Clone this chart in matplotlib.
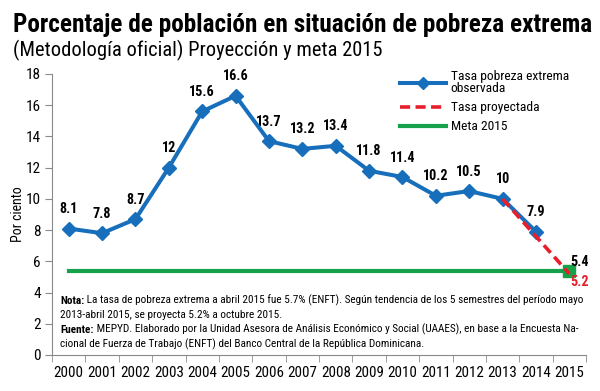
import matplotlib
matplotlib.use("Agg")
import matplotlib.pyplot as plt
from matplotlib.lines import Line2D

# data
years = ["2000", "2001", "2002", "2003", "2004", "2005", "2006", "2007",
         "2008", "2009", "2010", "2011", "2012", "2013", "2014", "2015"]
observed = [8.1, 7.8, 8.7, 12, 15.6, 16.6, 13.7, 13.2, 13.4, 11.8, 11.4,
            10.2, 10.5, 10, 7.9]
obs_labels = ["8.1", "7.8", "8.7", "12", "15.6", "16.6", "13.7", "13.2",
              "13.4", "11.8", "11.4", "10.2", "10.5", "10", "7.9"]
proj_years = ["2013", "2015"]
projected = [10, 5.2]
meta_value = 5.4
yticks = [0, 2, 4, 6, 8, 10, 12, 14, 16, 18]

plt.rcParams["font.family"] = ["Roboto Condensed", "DejaVu Sans"]

blue = "#176fbc"
red = "#e81f2b"
green = "#16a24a"
grey = "#8a8a8a"

fig = plt.figure(figsize=(6, 3.91), dpi=100)
ax = fig.add_axes([0.0867, 0.0921, 0.89, 0.7187])

x = list(range(len(years)))
xo = x[:len(observed)]
xp = [years.index(y) for y in proj_years]

ax.plot(x, [meta_value] * len(x), color=green, lw=3, solid_capstyle="projecting", zorder=2)
ax.plot(x[-1], meta_value, marker="s", ms=8, color=green, zorder=3)
ax.plot(xo, observed, color=blue, lw=2.9, marker="D", ms=7, mew=1, zorder=4)
ax.plot(xp, projected, color=red, lw=2.6, dashes=(2.8, 1.5), zorder=5)

for xi, v, t in zip(xo, observed, obs_labels):
    ax.annotate(t, (xi, v), xytext=(0, 14), textcoords="offset points",
                ha="center", va="center", fontsize=10.2, fontweight="bold")
ax.annotate("5.4", (x[-1], meta_value), xytext=(7.5, 6.5), textcoords="offset points",
            ha="center", va="center", fontsize=10.2, fontweight="bold")
ax.annotate("5.2", (x[-1], meta_value), xytext=(7.5, -8.3), textcoords="offset points",
            ha="center", va="center", fontsize=10.2, fontweight="bold", color=red)

ax.set_xlim(-0.5, len(years) - 0.5)
ax.set_ylim(0, 18)
ax.set_yticks(yticks)
ax.set_xticks(x)
ax.set_xticklabels(years, fontsize=10.8)
ax.set_xticks([i - 0.5 for i in range(len(years) + 1)], minor=True)
ax.tick_params(axis="x", which="major", length=0, pad=8)
ax.tick_params(axis="x", which="minor", length=5, color=grey)
ax.tick_params(axis="y", length=5, color=grey, labelsize=11, pad=3)
for s in ["top", "right"]:
    ax.spines[s].set_visible(False)
for s in ["left", "bottom"]:
    ax.spines[s].set_color(grey)
ax.set_ylabel("Por ciento", fontsize=10, labelpad=0.5)

handles = [
    Line2D([], [], color=blue, lw=2.9, marker="D", ms=6),
    Line2D([], [], color=red, lw=2.6, dashes=(2.8, 1.5)),
    Line2D([], [], color=green, lw=3),
]
labels = ["Tasa pobreza extrema\nobservada", "Tasa proyectada", "Meta 2015"]
leg = ax.legend(handles, labels, loc="upper left", bbox_to_anchor=(0.652, 1.015),
                frameon=False, fontsize=9.7, handlelength=3.4, handletextpad=0.35,
                labelspacing=0.45, borderpad=0, borderaxespad=0, numpoints=1)
for t in leg.get_texts():
    t.set_linespacing(0.95)

fig.text(0.021, 0.936, "Porcentaje de población en situación de pobreza extrema",
         fontsize=18.2, fontweight="bold", va="center", ha="left")
fig.text(0.021, 0.872, "(Metodología oficial) Proyección y meta 2015",
         fontsize=14.8, va="center", ha="left")

# note and source, with bold lead words
note_size = 8.1
x0 = 60 / 600
rows = [
    ("Nota:", " La tasa de pobreza extrema a abril 2015 fue 5.7% (ENFT). Según tendencia de los 5 semestres del período mayo"),
    ("", "2013-abril 2015, se proyecta 5.2% a octubre 2015."),
    ("Fuente:", " MEPYD. Elaborado por la Unidad Asesora de Análisis Económico y Social (UAAES), en base a la Encuesta Na-"),
    ("", "cional de Fuerza de Trabajo (ENFT) del Banco Central de la República Dominicana."),
]
baselines = [304, 318.5, 333, 347.5]
for (lead, rest), yb in zip(rows, baselines):
    yf = 1 - yb / 391
    if lead:
        t = fig.text(x0, yf, lead, fontsize=note_size, fontweight="bold", va="baseline")
        ax.annotate(rest, xy=(1, 0), xycoords=t, va="bottom", ha="left",
                    fontsize=note_size, annotation_clip=False)
    else:
        fig.text(x0, yf, rest, fontsize=note_size, va="baseline")

fig.savefig("out.png", dpi=100)
